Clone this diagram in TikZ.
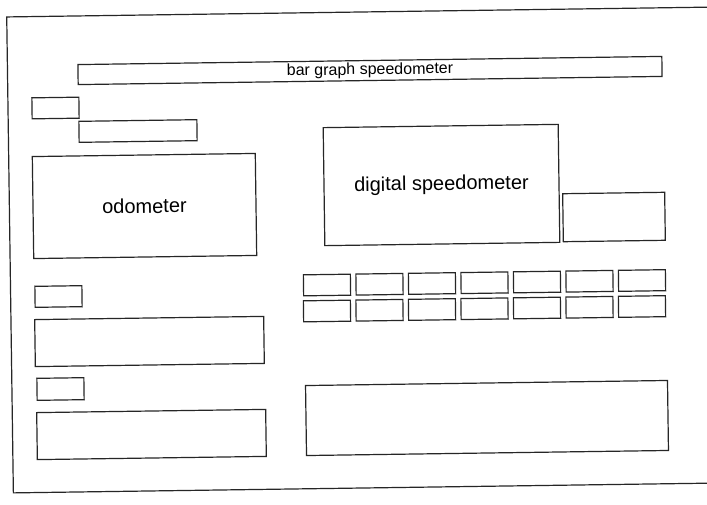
\documentclass[tikz,border=0pt]{standalone}
\usepackage{fontspec}
\setmainfont{Liberation Sans}
\begin{document}
\begin{tikzpicture}[x=1pt,y=-1pt,
  box/.style={draw=black!85, line width=1.2pt, rotate=0.8, inner sep=0pt, anchor=center},
  cell/.style={box, minimum width=47pt, minimum height=21pt}]
\useasboundingbox (0,0) rectangle (707,504);
\fill[white] (0,0) rectangle (707,504);
% outer frame
\node[box, minimum width=703pt, minimum height=476pt] (frame) at (361.5,250) {};
% top
\node[box, minimum width=584pt, minimum height=20pt, font=\fontsize{16}{18}\selectfont] (bar) at (370,70.5) {bar graph speedometer};
\node[box, minimum width=47pt, minimum height=21pt] (s1) at (55.5,108) {};
\node[box, minimum width=118pt, minimum height=21pt] (s2) at (138,131) {};
\node[box, minimum width=223pt, minimum height=102pt, font=\fontsize{20}{24}\selectfont] (odo) at (144.5,206) {odometer};
\node[box, minimum width=235pt, minimum height=118pt, font=\fontsize{20}{24}\selectfont] (dig) at (441.5,185) {digital speedometer};
\node[box, minimum width=102pt, minimum height=48pt] (sr) at (614,217) {};
% grid of cells
\foreach \i in {0,...,6} {
  \node[cell] (a\i) at ({327+52.5*\i},{285-0.75*\i}) {};
  \node[cell] (b\i) at ({327+52.5*\i},{311-0.75*\i}) {};
}
% left lower
\node[box, minimum width=47pt, minimum height=21pt] (l1) at (58.5,296.5) {};
\node[box, minimum width=229pt, minimum height=47pt] (l2) at (149.5,341.5) {};
\node[box, minimum width=47pt, minimum height=22pt] (l3) at (60.5,389) {};
\node[box, minimum width=229pt, minimum height=47pt] (l4) at (151.5,434.5) {};
% right lower
\node[box, minimum width=362pt, minimum height=70pt] (rb) at (487,418) {};
\end{tikzpicture}
\end{document}
